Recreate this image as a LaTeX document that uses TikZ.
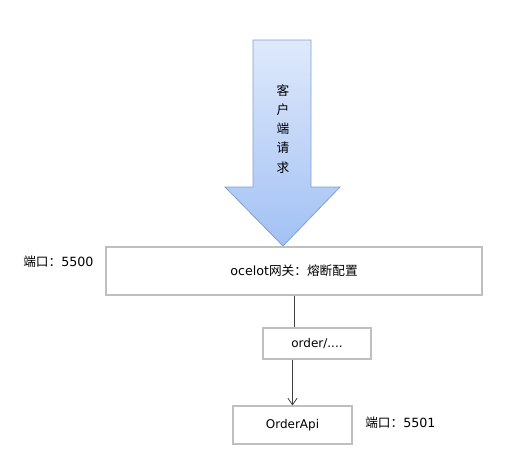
\documentclass[tikz,border=0pt]{standalone}
\usepackage{fontspec}
\setmainfont{Noto Sans CJK SC}
\newfontfamily\lat{DejaVu Sans}
\usetikzlibrary{arrows.meta}
\definecolor{boxgray}{HTML}{BFBFBF}
\definecolor{linegray}{HTML}{404040}
\definecolor{arrowedge}{HTML}{7FA2D4}
\definecolor{arrowtop}{HTML}{DFE9FB}
\definecolor{arrowbot}{HTML}{A2C1F4}
\begin{document}
\begin{tikzpicture}[x=0.75pt, y=-0.75pt, font=\fontsize{9.5pt}{11pt}\selectfont,
    box/.style={draw=boxgray, line width=0.8pt, fill=white, inner sep=0pt}]
    \useasboundingbox (0,0) rectangle (509,462);
    % client request arrow
    \shade[top color=arrowtop, bottom color=arrowbot, draw=arrowedge, line width=0.6pt]
      (253,40) -- (311,40) -- (311,187) -- (340,187) -- (283,246) -- (225,187) -- (253,187) -- cycle;
    \node[align=center, font=\fontsize{9.5pt}{14.3pt}\selectfont] (request) at (283,129) {客\\户\\端\\请\\求};
    \node[box, minimum width=376*0.75pt, minimum height=48*0.75pt] (gateway) at (294,271) {{\lat ocelot}网关：熔断配置};
    \node[box, minimum width=108*0.75pt, minimum height=31*0.75pt, font=\lat\fontsize{9pt}{11pt}\selectfont] (route) at (317,343.5) {order/....};
    \node[box, minimum width=119*0.75pt, minimum height=38*0.75pt, font=\lat\fontsize{9pt}{11pt}\selectfont] (orderapi) at (292.5,425) {OrderApi};
    \node[anchor=west, inner sep=0pt] (port1) at (23,262) {端口：{\lat 5500}};
    \node[anchor=west, inner sep=0pt] (port2) at (365,423) {端口：{\lat 5501}};
    \draw[linegray, line width=0.6pt] (gateway.south) -- (gateway.south |- route.north);
    \draw[-{Straight Barb[length=5pt, width=7pt]}, linegray, line width=0.6pt] (route.south -| orderapi.north) -- (orderapi.north);
  \end{tikzpicture}
\end{document}
